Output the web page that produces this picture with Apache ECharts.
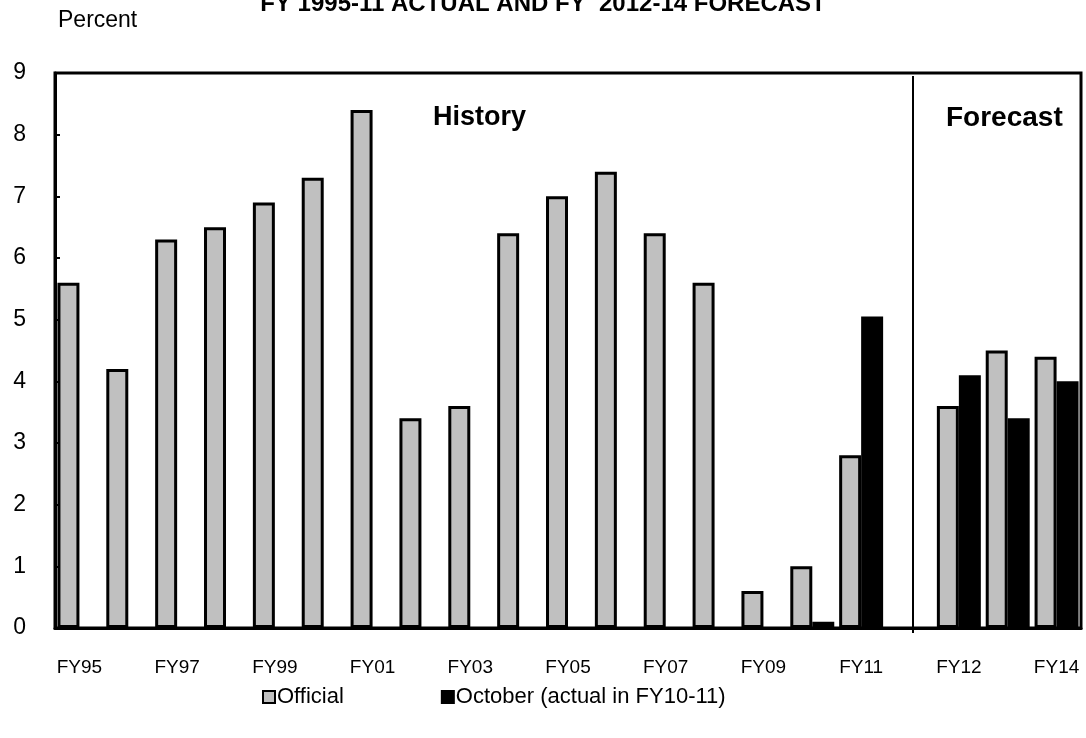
<!DOCTYPE html>
<html>
<head>
<meta charset="utf-8">
<script src="https://cdn.jsdelivr.net/npm/echarts@6/dist/echarts.min.js"></script>
<style>html,body{margin:0;padding:0;background:#fff}#c{width:1086px;height:738px}</style>
</head>
<body>
<div id="c"></div>
<script>
var categories = ['FY95','FY96','FY97','FY98','FY99','FY00','FY01','FY02','FY03','FY04','FY05','FY06','FY07','FY08','FY09','FY10','FY11','','FY12','FY13','FY14'];
var official = [5.6,4.2,6.3,6.5,6.9,7.3,8.4,3.4,3.6,6.4,7.0,7.4,6.4,5.6,0.6,1.0,2.8,null,3.6,4.5,4.4];
var october = [null,null,null,null,null,null,null,null,null,null,null,null,null,null,null,0.1,5.05,null,4.1,3.4,4.0];
var yTicks = [0,1,2,3,4,5,6,7,8,9];
var dividerCategory = '';

var FONT = '"Liberation Sans", Arial, sans-serif';
var chart = echarts.init(document.getElementById('c'));
var baseGraphics = [
  {type: 'text', left: 58, top: 9, style: {text: 'Percent', font: '23px ' + FONT, fill: '#000'}},
  {type: 'text', left: 433, top: 104, style: {text: 'History', font: 'bold 27px ' + FONT, fill: '#000'}},
  {type: 'text', left: 946, top: 104, style: {text: 'Forecast', font: 'bold 28px ' + FONT, fill: '#000'}}
];
chart.setOption({
  animation: false,
  backgroundColor: '#fff',
  title: {
    text: 'FY 1995-11 ACTUAL AND FY  2012-14 FORECAST',
    left: 'center', top: -13,
    textStyle: {fontFamily: FONT, fontSize: 24, fontWeight: 'bold', color: '#000'}
  },
  graphic: baseGraphics,
  legend: {
    left: 257, top: 681,
    icon: 'rect', itemWidth: 12, itemHeight: 12, itemGap: 97,
    textStyle: {fontFamily: FONT, fontSize: 22, color: '#000', padding: [0,0,0,-3]},
    data: [
      {name: 'Official', itemStyle: {color: '#c0c0c0', borderColor: '#000', borderWidth: 2}},
      {name: 'October (actual in FY10-11)', itemStyle: {color: '#000', borderColor: '#000', borderWidth: 2}}
    ]
  },
  grid: {left: 55, right: 5, top: 73, bottom: 110, show: true, borderColor: '#000', borderWidth: 3, backgroundColor: 'transparent'},
  xAxis: {
    type: 'category', data: categories,
    axisLine: {lineStyle: {color: '#000', width: 3}},
    axisTick: {show: false},
    axisLabel: {interval: 1, color: '#000', fontFamily: FONT, fontSize: 19, margin: 30}
  },
  yAxis: {
    type: 'value', min: 0, max: 9, interval: 1,
    axisLine: {show: true, lineStyle: {color: '#000', width: 3}},
    axisTick: {show: true, inside: true, length: 5, lineStyle: {color: '#000', width: 2}},
    splitLine: {show: false},
    axisLabel: {color: '#000', fontFamily: FONT, fontSize: 23, margin: 29,
      formatter: function (v) { return yTicks.indexOf(v) >= 0 ? String(v) : ''; }}
  },
  series: [
    {
      name: 'Official', type: 'bar', data: official,
      barGap: '0%', barCategoryGap: '10%',
      itemStyle: {color: '#c0c0c0', borderColor: '#000', borderWidth: 3}
    },
    {
      name: 'October (actual in FY10-11)', type: 'bar', data: october,
      itemStyle: {color: '#000', borderColor: '#000', borderWidth: 3}
    }
  ]
});
var top9 = chart.convertToPixel({yAxisIndex: 0}, 9);
var bottom0 = chart.convertToPixel({yAxisIndex: 0}, 0);
var xDiv = chart.convertToPixel({xAxisIndex: 0}, dividerCategory) + 3;
chart.setOption({
  graphic: baseGraphics.concat([{
    type: 'line', silent: true,
    shape: {x1: xDiv, y1: top9 + 3, x2: xDiv, y2: bottom0 + 5},
    style: {stroke: '#000', lineWidth: 2}
  }])
});
</script>
</body>
</html>
